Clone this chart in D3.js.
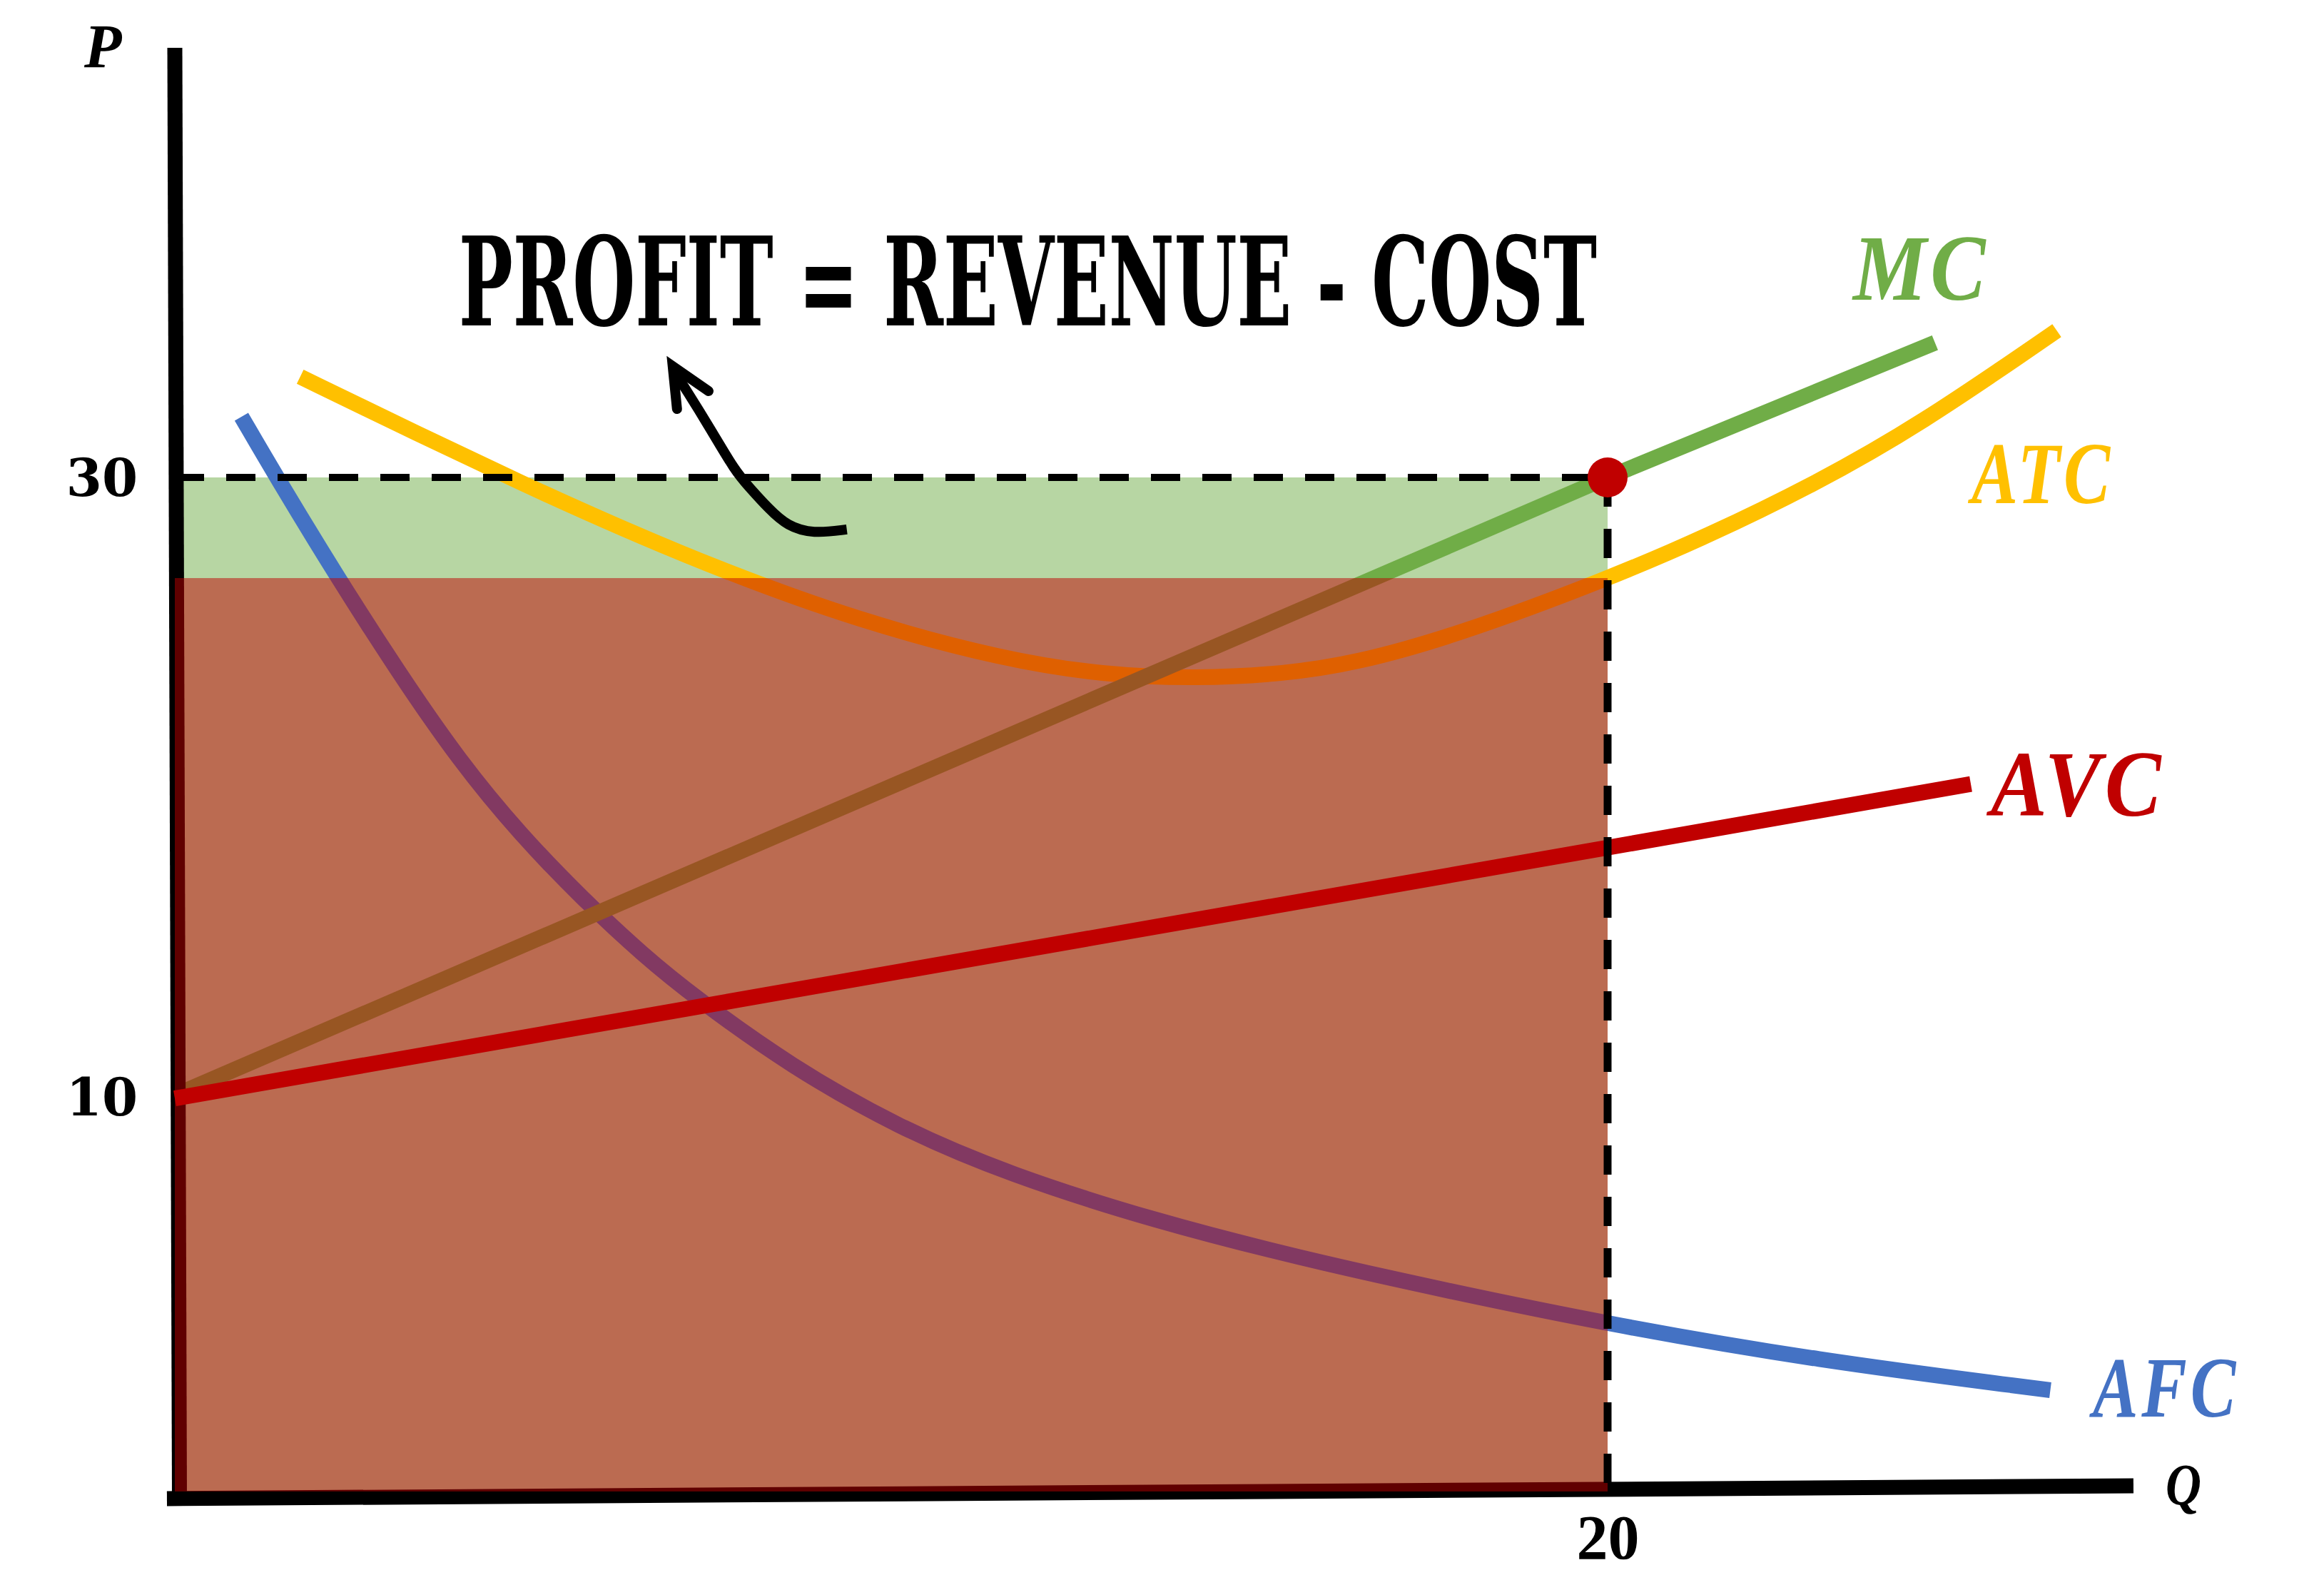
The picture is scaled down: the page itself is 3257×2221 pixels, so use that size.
<!DOCTYPE html>
<html><head><meta charset="utf-8">
<script src="https://cdn.jsdelivr.net/npm/d3@7"></script>
<style>html,body{margin:0;padding:0;background:#fff;} svg{display:block;}</style>
</head><body>
<script>
// ---------------- data (Q, P) ----------------
const qTicks = [20];
const pTicks = [10, 30];
const qStar = 20;
const pStar = 30;
const atcAtStar = 26.75;
const pFloor = -2.74;
const mcPoints  = [[0, 10.05], [20, 30], [24.57, 34.35]];
const avcPoints = [[0, 9.95], [25.07, 20.1]];
const atcPoints = [[1.75, 33.25], [3.40, 31.40], [4.83, 29.82], [6.26, 28.33], [7.69, 26.95], [9.51, 25.40],
                   [11.60, 24.10], [13.00, 23.62], [14.26, 23.50], [15.50, 23.66], [16.48, 24.00], [17.89, 24.90],
                   [20.00, 26.72], [21.41, 28.12], [22.87, 29.76], [24.34, 31.67], [26.27, 34.74]];
const afcPoints = [[0.93, 31.96], [1.41, 30.05], [2.25, 26.85], [3.11, 23.75], [3.97, 20.85], [4.83, 18.45],
                   [5.69, 16.40], [6.55, 14.55], [7.27, 13.20], [8.59, 11.00], [10.11, 9.00], [11.64, 7.50],
                   [13.67, 6.00], [15.70, 4.80], [17.74, 3.75], [19.97, 2.68], [22.89, 1.50], [26.18, 0.53]];
const yAxisLine = [[0, 43.87], [0.065, -3.2]];
const xAxisLine = [[-0.11, -2.97], [27.34, -2.56]];
const arrowShaft = [[9.38, 28.32], [8.91, 28.18], [8.55, 28.43], [8.29, 28.99], [8.02, 29.68], [7.82, 30.21],
                    [7.49, 31.52], [7.12, 32.90], [6.99, 33.35]];
const arrowHead = [[7.01, 32.21], [6.95, 33.59], [7.45, 32.79]];
const titleText = "PROFIT = REVENUE - COST";
const curveLabels = ["MC", "ATC", "AVC", "AFC"];

// ---------------- drawing ----------------
const W = 3257, H = 2221;
const svg = d3.select("body").append("svg").attr("width", W).attr("height", H);
const x = d3.scaleLinear().domain([0, 20]).range([245, 2253]);
const y = d3.scaleLinear().domain([10, 30]).range([1537, 669]);

const C = {mc: "#70AD47", atc: "#FFC000", avc: "#C00000", afc: "#4472C4"};
const lin = d3.line().x(d => x(d[0])).y(d => y(d[1]));
const basis = d3.line().x(d => x(d[0])).y(d => y(d[1])).curve(d3.curveBasis);

function fitText(sel, targetW) {
  const n = sel.node().getComputedTextLength();
  const x0 = +sel.attr("x"), y0 = +sel.attr("y");
  sel.attr("x", 0).attr("y", 0).attr("transform", `translate(${x0},${y0}) scale(${targetW / n},1)`);
}

// revenue (green) rectangle
svg.append("rect").attr("x", x(0)).attr("width", x(qStar) - x(0))
  .attr("y", y(pStar)).attr("height", y(pFloor) - y(pStar))
  .attr("fill", C.mc).attr("fill-opacity", 0.5);

// curves under cost rect
const lw = 22;
svg.append("path").attr("d", basis(afcPoints)).attr("fill", "none").attr("stroke", C.afc).attr("stroke-width", lw);
svg.append("path").attr("d", basis(atcPoints)).attr("fill", "none").attr("stroke", C.atc).attr("stroke-width", lw);
svg.append("path").attr("d", lin(mcPoints)).attr("fill", "none").attr("stroke", C.mc).attr("stroke-width", lw);

// axes lines
svg.append("path").attr("d", lin(yAxisLine)).attr("stroke", "#000").attr("stroke-width", 21).attr("fill", "none");
svg.append("path").attr("d", lin(xAxisLine)).attr("stroke", "#000").attr("stroke-width", 21).attr("fill", "none");

// cost (red) rectangle
svg.append("rect").attr("x", x(0)).attr("width", x(qStar) - x(0))
  .attr("y", y(atcAtStar)).attr("height", y(pFloor) - y(atcAtStar))
  .attr("fill", C.avc).attr("fill-opacity", 0.5);

// AVC on top
svg.append("path").attr("d", lin(avcPoints)).attr("fill", "none").attr("stroke", C.avc).attr("stroke-width", lw);

// dashed guides
svg.append("path").attr("d", lin([[0, pStar], [qStar, pStar]])).attr("stroke", "#000")
  .attr("stroke-width", 10).attr("stroke-dasharray", "41,31").attr("fill", "none");
svg.append("path").attr("d", lin([[qStar, pStar], [qStar, pFloor]])).attr("stroke", "#000")
  .attr("stroke-width", 11).attr("stroke-dasharray", "41,31").attr("fill", "none");

// equilibrium dot
svg.append("circle").attr("cx", x(qStar)).attr("cy", y(pStar)).attr("r", 28).attr("fill", C.avc);

// arrow
svg.append("path").attr("d", basis(arrowShaft)).attr("fill", "none").attr("stroke", "#000")
  .attr("stroke-width", 14).attr("stroke-linecap", "butt");
svg.append("path").attr("d", lin(arrowHead)).attr("fill", "none").attr("stroke", "#000")
  .attr("stroke-width", 14).attr("stroke-linecap", "round").attr("stroke-linejoin", "miter");

// tick labels via axes
const gy = svg.append("g").attr("transform", `translate(${x(0)},0)`)
  .call(d3.axisLeft(y).tickValues(pTicks).tickSize(0).tickPadding(52).tickFormat(d3.format("d")));
gy.select(".domain").remove();
gy.selectAll("text").attr("font-family", "DejaVu Serif").attr("font-weight", "bold")
  .attr("font-size", 72).attr("fill", "#000").attr("dy", "0.36em");

const gx = svg.append("g").attr("transform", `translate(0,${y(xAxisLine[0][1])})`)
  .call(d3.axisBottom(x).tickValues(qTicks).tickSize(0).tickPadding(22).tickFormat(d3.format("d")));
gx.select(".domain").remove();
gx.selectAll("text").attr("font-family", "Liberation Serif").attr("font-weight", "bold")
  .attr("font-size", 88).attr("fill", "#000");

// axis titles
svg.append("text").text("P").attr("x", 118).attr("y", 94).attr("font-family", "Liberation Serif")
  .attr("font-weight", "bold").attr("font-style", "italic").attr("font-size", 86).attr("fill", "#000");
const qLab = svg.append("text").text("Q").attr("x", 3035).attr("y", 2108).attr("font-family", "Liberation Serif")
  .attr("font-weight", "bold").attr("font-style", "italic").attr("font-size", 82).attr("fill", "#000");
fitText(qLab, 50);

// curve labels
const labelLayout = [
  {x: 2597, y: 420, w: 191, fs: 132, c: C.mc},
  {x: 2763, y: 705, w: 199, fs: 122, c: C.atc},
  {x: 2790, y: 1143, w: 244, fs: 131, c: C.avc},
  {x: 2933, y: 1985, w: 205, fs: 120, c: C.afc}
];
curveLabels.forEach((t, i) => {
  const L = labelLayout[i];
  const s = svg.append("text").text(t).attr("x", L.x).attr("y", L.y)
    .attr("font-family", "Liberation Serif").attr("font-weight", "bold").attr("font-style", "italic")
    .attr("font-size", L.fs).attr("fill", L.c).attr("letter-spacing", 6);
  fitText(s, L.w);
});

// title
const title = svg.append("text").text(titleText).attr("x", 643).attr("y", 456)
  .attr("font-family", "DejaVu Serif").attr("font-weight", "bold").attr("font-stretch", "condensed")
  .attr("font-size", 173).attr("fill", "#000");
fitText(title, 1595);
</script>
</body></html>
